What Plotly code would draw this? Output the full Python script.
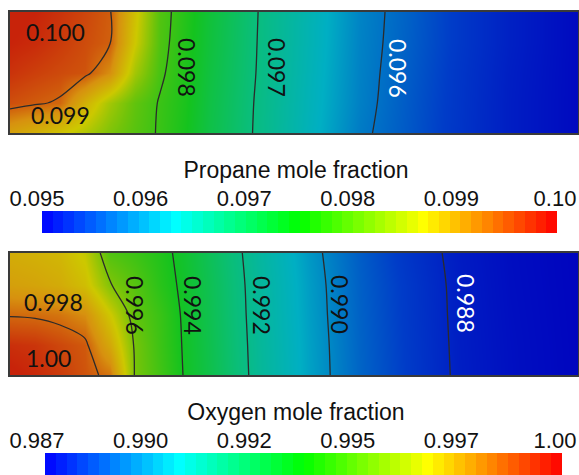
import numpy as np
import plotly.graph_objects as go

# ---------------- data ----------------
# grid positions along the channel (x) and across it (y)
grid_x = [0, 25, 50, 75, 100, 125, 150, 175, 200, 250, 300, 350, 400, 450, 500, 568]
grid_y_propane = [0, 30, 60, 90, 121]
grid_y_oxygen = [0, 30, 60, 90, 122]

# propane mole fraction, rows from bottom to top
propane_row0 = [0.0995, 0.0993, 0.09905, 0.0988, 0.09845, 0.09818, 0.09796, 0.09772,
                0.0974, 0.09693, 0.09648, 0.09606, 0.09582, 0.09556, 0.09532, 0.0951]
propane_row1 = [0.10012, 0.10004, 0.09996, 0.0993, 0.0987, 0.09825, 0.09797, 0.09775,
                0.09742, 0.09694, 0.0965, 0.09609, 0.09583, 0.09557, 0.09532, 0.0951]
propane_row2 = [0.1003, 0.10022, 0.10015, 0.10009, 0.0997, 0.0987, 0.09806, 0.09778,
                0.09745, 0.09696, 0.09652, 0.0961, 0.09585, 0.09558, 0.09533, 0.0951]
propane_row3 = [0.1004, 0.10035, 0.10025, 0.10014, 0.10001, 0.0990, 0.09812, 0.0978,
                0.09748, 0.09697, 0.09654, 0.09611, 0.09587, 0.0956, 0.09535, 0.0951]
propane_row4 = [0.10045, 0.1004, 0.1003, 0.10018, 0.10003, 0.0991, 0.09815, 0.09782,
                0.0975, 0.09698, 0.09655, 0.09612, 0.09588, 0.0956, 0.09535, 0.0951]

# oxygen mole fraction, rows from bottom to top
oxygen_row0 = [1.0012, 1.0010, 1.0007, 1.0003, 0.99975, 0.9959, 0.9949, 0.99392,
               0.9932, 0.99165, 0.99042, 0.98938, 0.98862, 0.98785, 0.98745, 0.98715]
oxygen_row1 = [1.0009, 1.0008, 1.0005, 1.0002, 0.9985, 0.99585, 0.9948, 0.99388,
               0.99315, 0.99162, 0.9904, 0.98936, 0.9886, 0.98783, 0.98744, 0.98714]
oxygen_row2 = [0.99995, 0.9999, 0.99975, 0.9993, 0.9975, 0.9955, 0.99475, 0.99383,
               0.9931, 0.99158, 0.99036, 0.98933, 0.98857, 0.98781, 0.98742, 0.98713]
oxygen_row3 = [0.9988, 0.99865, 0.9984, 0.9978, 0.99608, 0.9953, 0.99445, 0.99378,
               0.99305, 0.99155, 0.99033, 0.9893, 0.98855, 0.98779, 0.9874, 0.98712]
oxygen_row4 = [0.99835, 0.9982, 0.9980, 0.99725, 0.9952, 0.9948, 0.9943, 0.9937,
               0.99295, 0.99148, 0.99025, 0.98925, 0.98845, 0.98775, 0.98738, 0.98711]

# colour-bar ranges and tick labels
propane_range = [0.095, 0.100]
propane_tick_vals = [0.095, 0.096, 0.097, 0.098, 0.099, 0.100]
propane_tick_text = ["0.095", "0.096", "0.097", "0.098", "0.099", "0.10"]
oxygen_range = [0.987, 1.000]
oxygen_tick_vals = [0.987, 0.9896, 0.9922, 0.9948, 0.9974, 1.000]
oxygen_tick_text = ["0.987", "0.990", "0.992", "0.995", "0.997", "1.00"]

# colour limits used for the shaded surfaces
propane_surface_range = [0.095, 0.1004]
oxygen_surface_range = [0.987, 1.0011]

# contour levels drawn as lines
propane_levels_a = [0.096, 0.098]   # every 0.001
propane_levels_b = [0.100]
oxygen_levels_a = [0.988, 0.996]    # every 0.002
oxygen_levels_b = [1.000]

# contour labels
propane_labels = ["0.100", "0.099", "0.098", "0.097", "0.096"]
oxygen_labels = ["0.998", "1.00", "0.996", "0.994", "0.992", "0.990", "0.988"]

# ---------------- styling / placement ----------------
W, H = 579, 475
propane_label_pos = [(45, 101, 0, "#111"), (50, 18, 0, "#111"), (177, 66, 90, "#111"),
                     (267, 66, 90, "#111"), (388, 65, 90, "#ffffff")]
oxygen_label_pos = [(43, 73, 0, "#111"), (38, 17, 0, "#111"), (125, 70, 90, "#111"),
                    (183, 70, 90, "#111"), (252, 70, 90, "#111"), (330, 71, 90, "#111"),
                    (456, 72, 90, "#ffffff")]

panel_cs = [
    [0.00, "rgb(0,0,190)"],
    [0.12, "rgb(0,60,200)"],
    [0.26, "rgb(0,175,195)"],
    [0.38, "rgb(10,190,120)"],
    [0.50, "rgb(20,195,30)"],
    [0.62, "rgb(110,195,10)"],
    [0.74, "rgb(205,200,0)"],
    [0.87, "rgb(215,145,15)"],
    [1.00, "rgb(200,35,10)"],
]
bar_cs = [
    [0.00, "rgb(0,0,255)"],
    [0.26, "rgb(0,255,255)"],
    [0.50, "rgb(0,255,0)"],
    [0.74, "rgb(255,255,0)"],
    [1.00, "rgb(255,0,0)"],
]

def xdom(a, b):
    return [a / W, b / W]

def ydom(top, bottom):
    return [1 - bottom / H, 1 - top / H]

propane = [propane_row0, propane_row1, propane_row2, propane_row3, propane_row4]
oxygen = [oxygen_row0, oxygen_row1, oxygen_row2, oxygen_row3, oxygen_row4]

fig = go.Figure()

line_col = "#2b2b2b"

def add_panel(z, gy, rng, levels_a, step_a, levels_b, xa, ya):
    fig.add_trace(go.Heatmap(x=grid_x, y=gy, z=z, zmin=rng[0], zmax=rng[1],
                             colorscale=panel_cs, zsmooth="best", showscale=False,
                             hoverinfo="skip", xaxis=xa, yaxis=ya))
    fig.add_trace(go.Contour(x=grid_x, y=gy, z=z, autocontour=False,
                             contours=dict(start=levels_a[0], end=levels_a[1] + step_a * 0.01,
                                           size=step_a, coloring="none"),
                             line=dict(color=line_col, width=1.3, smoothing=1),
                             showscale=False, hoverinfo="skip", xaxis=xa, yaxis=ya))
    fig.add_trace(go.Contour(x=grid_x, y=gy, z=z, autocontour=False,
                             contours=dict(start=levels_b[0], end=levels_b[0],
                                           size=step_a, coloring="none"),
                             line=dict(color=line_col, width=1.3, smoothing=1),
                             showscale=False, hoverinfo="skip", xaxis=xa, yaxis=ya))

add_panel(propane, grid_y_propane, propane_surface_range, propane_levels_a, 0.001,
          propane_levels_b, "x", "y")
add_panel(oxygen, grid_y_oxygen, oxygen_surface_range, oxygen_levels_a, 0.002,
          oxygen_levels_b, "x2", "y2")

def add_bar(rng, tick_vals, xa, ya, xa_lab, n=48):
    edges = np.linspace(rng[0], rng[1], n + 1)
    mids = (edges[:-1] + edges[1:]) / 2
    fig.add_trace(go.Heatmap(x=edges, y=[0, 1], z=[mids], zmin=rng[0], zmax=rng[1],
                             colorscale=bar_cs, showscale=False, hoverinfo="skip",
                             xaxis=xa, yaxis=ya))
    # invisible carrier so the tick-label scale is drawn
    fig.add_trace(go.Scatter(x=tick_vals, y=[-5] * len(tick_vals), mode="markers",
                             marker=dict(opacity=0), hoverinfo="skip",
                             xaxis=xa_lab, yaxis=ya))

add_bar(propane_range, propane_tick_vals, "x3", "y3", "x5")
add_bar(oxygen_range, oxygen_tick_vals, "x4", "y4", "x6")

label_font = dict(family="Lato, Open Sans, sans-serif", size=23)
for txt, (lx, ly, ang, col) in zip(propane_labels, propane_label_pos):
    fig.add_annotation(x=lx, y=ly, xref="x", yref="y", text=txt, showarrow=False,
                       textangle=ang, font=dict(color=col, **label_font))
for txt, (lx, ly, ang, col) in zip(oxygen_labels, oxygen_label_pos):
    fig.add_annotation(x=lx, y=ly, xref="x2", yref="y2", text=txt, showarrow=False,
                       textangle=ang, font=dict(color=col, **label_font))

panel_axis = dict(showgrid=False, zeroline=False, showticklabels=False, ticks="",
                  showline=True, mirror=True, linecolor="#3a3a3a", linewidth=1.5,
                  automargin=False)
bar_axis = dict(showgrid=False, zeroline=False, showline=False, showticklabels=False,
                ticks="", automargin=False)
bar_font = dict(family="Liberation Sans, Arial, sans-serif", size=22, color="#111")
title_font = dict(family="Liberation Sans, Arial, sans-serif", size=23, color="#111")
label_axis = dict(side="top", ticks="", showgrid=False, zeroline=False, showline=False,
                  tickfont=bar_font, automargin=False, ticklabeloverflow="allow")

fig.update_layout(
    width=W, height=H, margin=dict(l=0, r=0, t=0, b=0, autoexpand=False),
    paper_bgcolor="white", plot_bgcolor="rgba(0,0,0,0)", showlegend=False,
    xaxis=dict(domain=xdom(10, 578), range=[0, 568], anchor="y", **panel_axis),
    yaxis=dict(domain=ydom(12, 133), range=[0, 121], anchor="x", **panel_axis),
    xaxis2=dict(domain=xdom(10, 578), range=[0, 568], anchor="y2", **panel_axis),
    yaxis2=dict(domain=ydom(253, 375), range=[0, 122], anchor="x2", **panel_axis),
    xaxis3=dict(domain=xdom(42, 557), range=propane_range, anchor="y3", **bar_axis),
    yaxis3=dict(domain=ydom(211, 233), range=[0, 1], anchor="x3", visible=False,
                automargin=False),
    xaxis4=dict(domain=xdom(45, 562), range=oxygen_range, anchor="y4", **bar_axis),
    yaxis4=dict(domain=ydom(453, 475), range=[0, 1], anchor="x4", visible=False,
                automargin=False),
    # tick-label scales of the two colour bars
    xaxis5=dict(domain=xdom(37, 555), range=propane_range, anchor="y3",
                tickvals=propane_tick_vals, ticktext=propane_tick_text,
                title=dict(text="Propane mole fraction", font=title_font, standoff=0),
                **label_axis),
    xaxis6=dict(domain=xdom(37, 555), range=oxygen_range, anchor="y4",
                tickvals=oxygen_tick_vals, ticktext=oxygen_tick_text,
                title=dict(text="Oxygen mole fraction", font=title_font, standoff=0),
                **label_axis),
)

fig.write_html("out.html", config={"displayModeBar": False},
               post_script="document.body.style.margin='0';document.body.style.overflow='hidden';")
